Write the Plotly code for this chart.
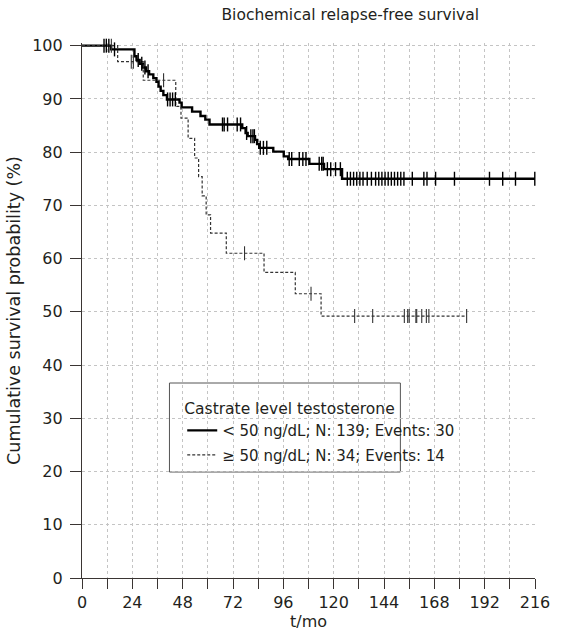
import plotly.graph_objects as go
import numpy as np

# ---- data ----
solid_t = [0, 13.9, 25.0, 26.0, 27.5, 29.0, 30.5, 32.0, 34.0, 35.5, 36.5, 37.5, 38.8, 40.5,
           46.5, 47.5, 52.5, 56.5, 58.8, 60.8, 76.4, 78.0, 79.0, 82.5, 83.5, 84.5, 91.2,
           96.2, 98.3, 108.4, 115.4, 124.0, 216]
solid_s = [100, 99.3, 98.0, 97.3, 96.6, 95.9, 95.2, 94.6, 93.9, 93.2, 92.3, 91.5, 90.7, 89.9,
           89.3, 88.4, 87.6, 86.8, 86.1, 85.2, 84.5, 83.6, 83.0, 82.3, 81.5, 80.8, 80.1,
           79.2, 78.7, 77.8, 76.8, 75.0, 75.0]
solid_cens = [10.5, 11.6, 12.8, 15.5, 26.8, 28.5, 30.0, 31.5, 40.8, 42.0, 43.2, 44.5,
              67.0, 67.8, 69.4, 74.0, 75.6, 78.5, 80.5, 81.5, 82.2, 85.0, 86.5, 88.1,
              98.8, 100.0, 103.6, 105.3, 106.8, 113.1, 114.3, 115.0, 117.0, 118.6, 120.9,
              123.2, 126.5, 128, 129.5, 131, 132.5, 134, 136, 138, 140, 141.5, 143, 144.5,
              146, 147.5, 149, 150.5, 152, 153.5, 157.5, 163, 164.5, 168.6, 177.6, 194.3,
              200.6, 206.7, 215.9]

dash_t = [0, 17.0, 29.2, 44.7, 47.2, 50.6, 53.7, 55.6, 57.3, 59.2, 61.3, 68.8, 86.8,
          101.7, 114.0, 183.4]
dash_s = [100, 97.0, 93.5, 88.6, 86.4, 82.6, 78.9, 75.4, 71.8, 68.2, 64.8, 61.0, 57.4,
          53.4, 49.2, 49.2]
dash_cens = [14.0, 23.5, 24.5, 38.9, 77.5, 109.2, 130.0, 138.6, 153.7, 155.3, 156.0,
             159.2, 159.6, 162.0, 164.2, 165.4, 183.4]

names = ["< 50 ng/dL; N: 139; Events: 30", "\u2265 50 ng/dL; N: 34; Events: 14"]
legend_title = "Castrate level testosterone"
x_ticks = list(range(0, 217, 24))
y_ticks = list(range(0, 101, 10))


def step_value(ts, ss, t):
    idx = np.searchsorted(np.array(ts), t, side="right") - 1
    return ss[max(idx, 0)]


FONT = "DejaVu Sans"
TXT = "#231f20"
AX = "#3a3533"
GRID = "#c4c4c4"

fig = go.Figure()
fig.add_trace(go.Scatter(x=solid_t, y=solid_s, mode="lines", line_shape="hv",
                         line=dict(color="black", width=2.4), name=names[0],
                         legendgroup="a"))
fig.add_trace(go.Scatter(x=dash_t, y=dash_s, mode="lines", line_shape="hv",
                         line=dict(color="#333333", width=1.2, dash="3px,2px"), name=names[1],
                         legendgroup="b"))
fig.add_trace(go.Scatter(x=solid_cens, y=[step_value(solid_t, solid_s, t) for t in solid_cens],
                         mode="markers", showlegend=False, cliponaxis=False,
                         marker=dict(symbol="line-ns", size=10,
                                     line=dict(color="black", width=1.4))))
fig.add_trace(go.Scatter(x=dash_cens, y=[step_value(dash_t, dash_s, t) for t in dash_cens],
                         mode="markers", showlegend=False, cliponaxis=False,
                         marker=dict(symbol="line-ns", size=10,
                                     line=dict(color="#333333", width=1.1))))

L, R, T, B = 82, 19, 43, 59
W, H = 562, 637
pw, ph = W - L - R, H - T - B


def px_x(p):
    return (p - L) / pw


def px_y(p):
    return (H - B - p) / ph


fig.add_shape(type="rect", xref="paper", yref="paper",
              x0=px_x(171), x1=px_x(406), y0=px_y(472), y1=px_y(383),
              line=dict(color="#555555", width=1), fillcolor="white", layer="below")

TITLE_FONT = dict(family=FONT, size=15.5, color=TXT)

fig.update_layout(
    width=W, height=H,
    margin=dict(l=L, r=R, t=T, b=B),
    plot_bgcolor="white", paper_bgcolor="white",
    font=dict(family=FONT, size=16, color=TXT),
    title=dict(text="Biochemical relapse-free survival", x=px_x(355), xref="paper",
               xanchor="center", y=1 - 15 / H, yref="container", yanchor="middle",
               font=TITLE_FONT),
    showlegend=True,
    legend=dict(title=dict(text=legend_title, font=dict(family=FONT, size=15.5, color=TXT)),
                x=px_x(184), y=px_y(394), xanchor="left", yanchor="top",
                bgcolor="rgba(0,0,0,0)", borderwidth=0,
                font=dict(family=FONT, size=15, color=TXT), itemwidth=30,
                tracegroupgap=2),
    xaxis=dict(range=[0, 216], tickvals=x_ticks, ticks="outside", ticklen=10,
               tickcolor=AX, showline=True, linecolor=AX, linewidth=1.2,
               showgrid=True, gridcolor=GRID, griddash="dot", gridwidth=1,
               zeroline=False, tickfont=dict(family=FONT, size=16, color=TXT),
               minor=dict(dtick=12, tick0=0, ticks="outside", ticklen=10, tickcolor=AX,
                          showgrid=True, gridcolor=GRID, griddash="dot"),
               title=dict(text="t/mo", standoff=2, font=dict(family=FONT, size=16, color=TXT))),
    yaxis=dict(range=[0, 100.5], tickvals=y_ticks, ticks="outside", ticklen=11,
               tickcolor=AX, showline=True, linecolor=AX, linewidth=1.2,
               showgrid=True, gridcolor=GRID, griddash="dot", gridwidth=1,
               zeroline=False, ticklabelstandoff=4,
               tickfont=dict(family=FONT, size=16, color=TXT),
               title=dict(text="Cumulative survival probability (%)", standoff=7,
                          font=dict(family=FONT, size=17.5, color=TXT))),
)

fig.write_html("out.html")
